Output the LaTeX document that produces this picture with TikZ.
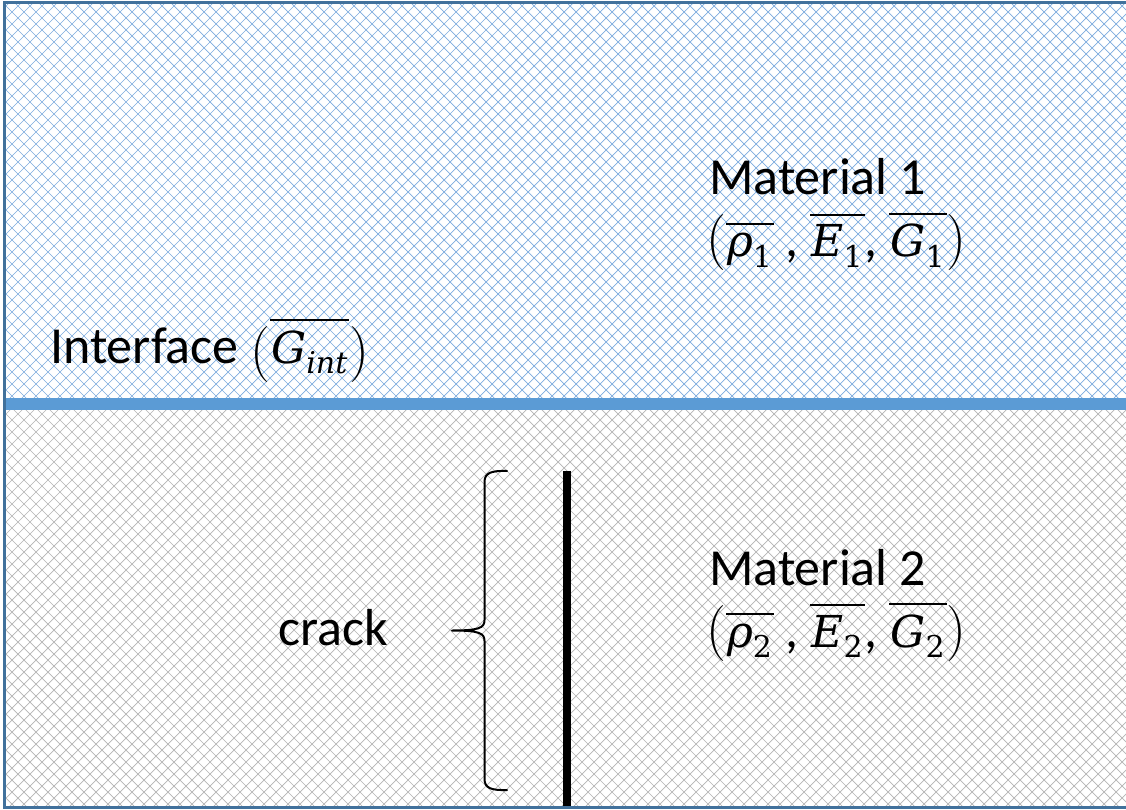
\documentclass[tikz,border=0pt]{standalone}
\usepackage{fontspec}
\setmainfont{Carlito}
\newfontfamily\mfont{DejaVu Serif}
\newfontfamily\pfont{Latin Modern Roman}
\definecolor{hatchblue}{RGB}{125,172,222}
\definecolor{hatchgray}{RGB}{180,180,180}
\definecolor{ifaceblue}{RGB}{91,155,213}
\definecolor{framecol}{RGB}{65,113,156}
\newcommand\ovl[1]{\vbox{\hrule height 2pt\kern 9pt\hbox{\kern1pt#1\kern2pt}}}
\newcommand\mvar[2]{\ovl{\fontsize{44}{50}\mfont\itshape #1\/\fontsize{30}{30}\selectfont\upshape\raisebox{-10pt}{#2}}}
\newcommand\bpar[2][0pt]{\raisebox{#1}{\fontsize{56}{56}\pfont #2}}
\tikzset{
  hatchA/.style={draw=hatchblue,line width=0.7pt},
  hatchB/.style={draw=hatchgray,line width=0.7pt},
  framestyle/.style={draw=framecol,line width=3pt},
  crackline/.style={draw=black,line width=8pt},
  bracestyle/.style={draw=black,line width=2pt,line cap=round,line join=round},
  lbl/.style={anchor=base west,inner sep=0pt,font=\fontsize{52}{58}\selectfont}
}
\begin{document}
\begin{tikzpicture}[x=1pt,y=-1pt]
\useasboundingbox (0,0) rectangle (1126,810);
\fill[white] (0,0) rectangle (1126,810);
% upper material hatch
\begin{scope}
\clip (4,3) rectangle (1126,404);
\foreach \i in {-816,-804,...,1944} {
  \draw[hatchA] (\i,0) -- ++(810,810);
  \draw[hatchA] (\i,0) -- ++(-810,810);
}
\end{scope}
% lower material hatch
\begin{scope}
\clip (4,404) rectangle (1126,807);
\foreach \i in {-816,-804,...,1944} {
  \draw[hatchB] (\i,0) -- ++(810,810);
  \draw[hatchB] (\i,0) -- ++(-810,810);
}
\end{scope}
% interface
\fill[ifaceblue] (4,398) rectangle (1126,410);
% frame
\draw[framestyle] (1126,2.5) -- (4.5,2.5) -- (4.5,807.5) -- (1126,807.5);
% crack
\coordinate (ctop) at (566.5,471);
\coordinate (cbot) at (566.5,806);
\draw[crackline] (ctop) -- (cbot);
% brace
\coordinate (btop) at (507,471);
\coordinate (btip) at (452,630.5);
\coordinate (bbot) at (507,790);
\draw[bracestyle] (btop) .. controls (491,470.5) and (484.5,473) .. (484.5,482)
  -- (484.5,620) .. controls (484.5,628) and (479,630.5) .. (btip)
  .. controls (479,630.5) and (484.5,633) .. (484.5,641)
  -- (484.5,779) .. controls (484.5,788) and (491,790.5) .. (bbot);
% labels
\node[lbl] (mat1) at (709,195) {Material 1};
\node[lbl] (mat1p) at (706,257) {\bpar{(}\mvar{ρ}{1} , \mvar{E}{1}, \mvar{G}{1}\bpar{)}};
\node[lbl] (iface) at (50,363) {Interface \bpar[-5pt]{(}\mvar{G}{\itshape int}\bpar[-5pt]{)}};
\node[lbl] (mat2) at (709,585) {Material 2};
\node[lbl] (mat2p) at (706,647) {\bpar{(}\mvar{ρ}{2} , \mvar{E}{2}, \mvar{G}{2}\bpar{)}};
\node[lbl] (crack) at (278,645) {crack};
\end{tikzpicture}
\end{document}
